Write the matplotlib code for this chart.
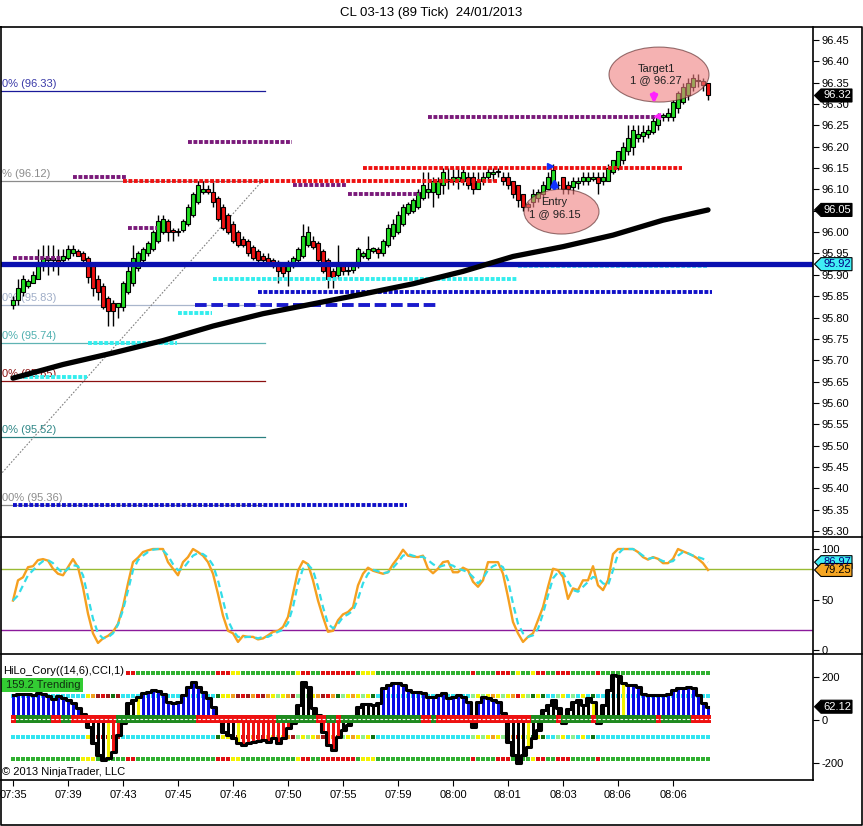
import matplotlib
matplotlib.use('Agg')
import matplotlib.pyplot as plt
from matplotlib.patches import Ellipse, Polygon, Rectangle
import numpy as np

plt.rcParams['font.family'] = ['Liberation Sans', 'DejaVu Sans']

# ---------------- DATA ----------------
TITLE = "CL 03-13 (89 Tick)  24/01/2013"
TIME_LABELS = ["07:35", "07:39", "07:43", "07:45", "07:46", "07:50", "07:55",
               "07:59", "08:00", "08:01", "08:03", "08:06", "08:06"]
TIME_BARS = [0, 11, 22, 33, 44, 55, 66, 77, 88, 99, 110, 121, 132]
PRICE_TICKS = [95.30, 95.35, 95.40, 95.45, 95.50, 95.55, 95.60, 95.65, 95.70, 95.75,
               95.80, 95.85, 95.90, 95.95, 96.00, 96.05, 96.10, 96.15, 96.20, 96.25,
               96.30, 96.35, 96.40, 96.45]

OPEN = [95.83, 95.84, 95.86, 95.875, 95.88, 95.89, 95.92, 95.935, 95.935, 95.935,
        95.935, 95.94, 95.95, 95.955, 95.95, 95.94, 95.92, 95.89, 95.875, 95.845,
        95.835, 95.825, 95.825, 95.86, 95.88, 95.915, 95.935, 95.95, 95.96, 95.98,
        96.00, 96.025, 96.005, 96.00, 96.005, 96.02, 96.04, 96.07, 96.095, 96.10,
        96.095, 96.08, 96.06, 96.04, 96.02, 96.00, 95.985, 95.98, 95.965, 95.955,
        95.945, 95.94, 95.935, 95.93, 95.925, 95.91, 95.92, 95.935, 95.945, 95.97,
        95.98, 95.975, 95.955, 95.935, 95.91, 95.90, 95.92, 95.91, 95.912, 95.92,
        95.945, 95.94, 95.955, 95.96, 95.95, 95.97, 95.99, 96.00, 96.02, 96.045,
        96.05, 96.06, 96.08, 96.095, 96.095, 96.09, 96.11, 96.125, 96.12, 96.12,
        96.12, 96.13, 96.13, 96.10, 96.12, 96.13, 96.135, 96.14, 96.13, 96.13,
        96.12, 96.11, 96.09, 96.065, 96.07, 96.08, 96.09, 96.10, 96.11, 96.11,
        96.13, 96.11, 96.105, 96.115, 96.12, 96.12, 96.125, 96.13, 96.12, 96.12,
        96.14, 96.15, 96.17, 96.19, 96.20, 96.22, 96.225, 96.23, 96.235, 96.25,
        96.27, 96.27, 96.27, 96.29, 96.305, 96.32, 96.34, 96.355, 96.355, 96.35]
HIGH = [95.85, 95.89, 95.90, 95.89, 95.91, 95.96, 95.97, 95.97, 95.97, 95.96,
        95.96, 95.97, 95.97, 95.96, 95.955, 95.945, 95.92, 95.90, 95.88, 95.85,
        95.84, 95.835, 95.885, 95.92, 95.97, 95.955, 95.965, 95.98, 96.005, 96.04,
        96.04, 96.03, 96.01, 96.01, 96.03, 96.065, 96.095, 96.12, 96.12, 96.11,
        96.12, 96.085, 96.065, 96.045, 96.025, 96.005, 95.99, 95.985, 95.97, 95.96,
        95.95, 95.95, 95.94, 95.935, 95.93, 95.935, 95.945, 95.965, 96.02, 96.015,
        95.99, 95.98, 95.96, 95.94, 95.915, 95.97, 95.925, 95.92, 95.93, 95.965,
        95.955, 95.99, 95.965, 95.965, 95.985, 96.02, 96.03, 96.05, 96.065, 96.07,
        96.08, 96.10, 96.14, 96.14, 96.13, 96.13, 96.15, 96.15, 96.15, 96.15,
        96.15, 96.14, 96.14, 96.14, 96.14, 96.15, 96.15, 96.15, 96.14, 96.14,
        96.12, 96.11, 96.09, 96.07, 96.10, 96.10, 96.12, 96.14, 96.16, 96.12,
        96.13, 96.12, 96.13, 96.13, 96.14, 96.14, 96.14, 96.14, 96.14, 96.16,
        96.17, 96.19, 96.21, 96.25, 96.25, 96.25, 96.25, 96.25, 96.27, 96.28,
        96.28, 96.29, 96.31, 96.33, 96.35, 96.36, 96.37, 96.37, 96.36, 96.35]
LOW = [95.82, 95.83, 95.85, 95.87, 95.88, 95.89, 95.91, 95.90, 95.91, 95.90,
       95.93, 95.935, 95.945, 95.945, 95.93, 95.88, 95.85, 95.84, 95.82, 95.78,
       95.78, 95.80, 95.815, 95.855, 95.875, 95.91, 95.93, 95.945, 95.955, 95.975,
       95.995, 95.98, 95.98, 95.99, 96.00, 96.015, 96.035, 96.065, 96.09, 96.09,
       96.06, 96.025, 96.005, 95.995, 95.975, 95.965, 95.965, 95.945, 95.935, 95.93,
       95.93, 95.925, 95.915, 95.88, 95.895, 95.875, 95.915, 95.93, 95.94, 95.965,
       95.96, 95.93, 95.905, 95.87, 95.87, 95.89, 95.90, 95.90, 95.905, 95.915,
       95.94, 95.935, 95.95, 95.94, 95.945, 95.965, 95.985, 95.995, 96.015, 96.04,
       96.045, 96.055, 96.075, 96.08, 96.06, 96.08, 96.09, 96.10, 96.11, 96.10,
       96.11, 96.10, 96.09, 96.10, 96.11, 96.12, 96.12, 96.13, 96.11, 96.10,
       96.08, 96.06, 96.05, 96.05, 96.06, 96.07, 96.08, 96.10, 96.10, 96.10,
       96.09, 96.09, 96.09, 96.10, 96.11, 96.11, 96.12, 96.09, 96.11, 96.12,
       96.135, 96.145, 96.16, 96.18, 96.18, 96.21, 96.21, 96.22, 96.23, 96.24,
       96.26, 96.26, 96.26, 96.28, 96.30, 96.31, 96.33, 96.34, 96.33, 96.31]
CLOSE = [95.84, 95.87, 95.89, 95.885, 95.90, 95.92, 95.94, 95.94, 95.94, 95.93,
         95.945, 95.96, 95.96, 95.945, 95.935, 95.895, 95.87, 95.86, 95.825, 95.815,
         95.815, 95.835, 95.88, 95.91, 95.94, 95.95, 95.96, 95.975, 96.00, 96.025,
         96.03, 96.00, 96.00, 96.00, 96.025, 96.06, 96.09, 96.11, 96.10, 96.095,
         96.07, 96.03, 96.01, 96.00, 95.98, 95.97, 95.97, 95.95, 95.94, 95.935,
         95.935, 95.93, 95.92, 95.91, 95.905, 95.925, 95.94, 95.96, 95.99, 96.00,
         95.965, 95.935, 95.91, 95.89, 95.895, 95.92, 95.91, 95.912, 95.92, 95.96,
         95.952, 95.96, 95.962, 95.95, 95.98, 96.01, 96.02, 96.04, 96.06, 96.065,
         96.075, 96.095, 96.11, 96.10, 96.12, 96.12, 96.14, 96.12, 96.13, 96.13,
         96.14, 96.11, 96.10, 96.12, 96.13, 96.14, 96.14, 96.142, 96.12, 96.11,
         96.09, 96.075, 96.06, 96.06, 96.09, 96.095, 96.11, 96.13, 96.145, 96.11,
         96.10, 96.10, 96.12, 96.12, 96.13, 96.13, 96.13, 96.115, 96.13, 96.15,
         96.17, 96.19, 96.20, 96.22, 96.24, 96.23, 96.235, 96.24, 96.26, 96.27,
         96.275, 96.28, 96.305, 96.325, 96.34, 96.35, 96.36, 96.357, 96.345, 96.32]

MA_BARS = [0, 10, 20, 30, 40, 50, 60, 70, 80, 90, 100, 110, 120, 130, 139]
MA_VALUES = [95.658, 95.690, 95.717, 95.746, 95.780, 95.809, 95.832, 95.855,
             95.879, 95.908, 95.943, 95.966, 95.993, 96.028, 96.052]
BLUE_LEVEL = 95.925

FIB_LEVELS = [96.33, 96.12, 95.83, 95.74, 95.652, 95.52, 95.36]
FIB_LABELS = ["0% (96.33)", "% (96.12)", "0% (95.83)", "0% (95.74)",
              "0% (95.65)", "0% (95.52)", "00% (95.36)"]
FIB_COLORS = ["#1a1a9a", "#8c8c8c", "#a9b6cc", "#5fb3b3", "#8b1010", "#2a8080", "#8c8c8c"]
FIB_TEXT_COLORS = ["#3a3aa8", "#8c8c8c", "#a0aec8", "#50b0b0", "#8b1010", "#308888", "#8c8c8c"]

DOT_LEVELS = [96.21, 96.13, 96.12, 96.15, 96.11, 96.09, 96.01, 95.94, 96.27,
              95.89, 95.92, 95.86, 95.81, 95.74, 95.66, 95.36]
DOT_START = [35, 12, 22, 70, 56, 67, 23, 0, 83, 40, 101, 49, 33, 15, 0, 0]
DOT_END = [55.8, 22.8, 96.8, 133.8, 66.8, 81.4, 28.8, 9.8, 128.8, 100.8, 138.8,
           139.8, 39.8, 32.8, 14.8, 78.8]
DOT_KIND = ["P", "P", "R", "R", "P", "P", "P", "P", "P", "C", "LC", "N", "C", "C", "C", "N"]
DASH_LEVEL, DASH_START, DASH_END = 95.83, 36.4, 85.4

STOCH_K = [49, 69, 72, 82, 83, 89, 90, 88.5, 80.5, 75.5, 74, 82, 90, 82, 62, 36, 16.5, 7, 11.5, 14,
           18, 26, 43, 66, 87, 91.4, 97, 98.7, 100, 100, 100, 87, 80.5, 74, 87, 92, 100, 97, 93.4, 87,
           75.5, 55.5, 34, 19, 16.5, 8, 14, 13, 13, 10.5, 11.5, 14.5, 18, 19, 22.8, 32.7, 55.5, 78.5, 88, 85,
           69, 49, 32.7, 18, 19, 29.4, 35.3, 37.6, 42.5, 64, 75.5, 81.5, 78.5, 77, 75.5, 77, 85, 91.4, 99.3, 93.4,
           92.4, 92, 93.4, 80.5, 76, 80.5, 87, 88, 77, 77, 81.5, 79, 67.6, 62.6, 69, 87, 87, 87, 75.5, 52.5,
           27.7, 16.5, 8, 13, 16.5, 29.4, 42.5, 62.5, 80.5, 79, 72.3, 50.6, 61, 59.3, 69, 69, 83, 64, 59.3, 69,
           95, 100, 100, 100, 100, 97, 92, 89.5, 92, 90.3, 86, 86, 90.3, 100, 97.7, 95.7, 93.4, 90.3, 86, 79.25]
STOCH_D = [49, 54, 64, 74, 79, 84, 88, 89, 86, 80.5, 76, 80.5, 84, 83, 74, 52.5, 31, 16.5, 11.5, 12.5,
           16.5, 25, 39.6, 59, 79, 89, 93.4, 97, 99.3, 100, 98.7, 93.4, 85, 79, 80.5, 87, 93.4, 96, 95, 91.4,
           84, 69, 49, 29.4, 19, 13, 12.5, 13, 13, 11.5, 13, 13, 15.5, 18, 20, 26.7, 42.5, 66, 80.5, 84.6,
           79, 62.5, 42.5, 26, 21.5, 25.7, 32.7, 35.3, 39, 50.6, 66, 75.5, 79.5, 78, 76, 77, 81.5, 87, 93.4, 95,
           93.4, 92, 92.4, 89, 85, 82, 83.5, 85, 83.5, 80.5, 79, 77, 72.3, 66, 71, 79, 83, 85, 82, 69,
           46, 26, 16.5, 13, 14.5, 21, 36, 54, 71, 77, 76, 67.6, 59.3, 57.7, 62.6, 67.6, 72.3, 71, 66, 64,
           79, 95, 100, 100, 100, 97, 93.4, 90.3, 91.4, 90.3, 88, 87, 88, 93.4, 97, 95.7, 93.4, 92, 90.3, 86.97]

CCI = [117, 120, 120, 120, 117, 128, 120, 110, 100, 110, 105, 95, 80, 55, 30, -31, -109, -164, -187, -179,
       -148, -70, -15, 78, 93, 109, 125, 132, 140, 136, 120, 86, 78, 86, 117, 156, 179, 156, 132, 101,
       62, 8, -54, -70, -86, -109, -117, -109, -104, -98, -94, -104, -86, -109, -86, -39, -15, 70, 179, 156,
       55, 24, -54, -117, -140, -78, -47, -23, 20, 62, 73, 73, 70, 78, 148, 164, 171, 171, 164, 140,
       132, 132, 125, 109, 109, 117, 125, 101, 109, 117, 109, 86, -31, 86, 109, 101, 95, 86, 32, -101,
       -164, -203, -164, -125, -86, -47, 47, 70, 93, 55, -15, 50, 86, 93, 70, 101, 86, -15, 70, 140,
       210, 207, 171, 164, 164, 156, 120, 117, 117, 117, 117, 120, 140, 148, 151, 156, 148, 117, 78, 62.12]
CCI_STATE = ("BBBBBBBBBBBBBB" "KKKKK" "Y" "RR" "KKK" "Y" "BBBBBBBBBBBBBBB" "KKKK" "Y"
             "RRRRRRRRRR" "KKKKKK" "RRRR" "KKKKKKKK" "BBBBBBBBBBBBBBBBBB" "K" "BBBBB"
             "KKKKK" "Y" "KKKKKK" "R" "KKKKK" "Y" "R" "KKKK" "Y" "BBBBBBBBBBBBBBBBB")
OUTER_STATE = ("GGGGGGGGGGGGGG" "YYY" "GGGGGG" "RR" "GGGGGGGGGGGGGGGG" "RRR" "YY" "GGGGGGGGGGG"
               "Y" "RR" "GG" "RRRRRRR" "G" "YYY" "GGGGGGGGGGGGGGGGGGG" "R" "GGGG" "RRR" "G" "Y"
               "GG" "Y" "RR" "GG" "RRR" "GGGGG" "R" "GGGGGGGGGGGGGGGGGGGGGG")
INNER_STATE = ("CCCCCCCCCCCCCCC" "YODRDKD" "CCCCCCCCCCCCCCCCCCC"
               "KYYODRDORDOYLYODLYLYODROKLYOYLYK" "CCCCCCCCCCCCCCCCCCC" "LYLYOYLYORYLKYK"
               "CC" "LYCLCYCK" "CCCCCCCCCCCCCCCCCCCCCCC")
ZERO_STATE = ("r" "ggggggg" "rr" "gg" "rrrrrrrrr" "gggggggggggggggg" "rrrrrrrrrrrrrrrr" "gggggggg"
              "rr" "gg" "r" "gggggggggggggggg" "rr" "g" "rrrrrrrrrrrrrrrrrrr" "ggggg" "r" "gggggg"
              "r" "gggggggggggg" "r" "gggggg" "rrrr")
CCI_ROWS_OUTER = [218, -184]
CCI_ROWS_INNER = [114, -78]
CCI_ZERO_ROW = 4.7

# ---------------- FIGURE ----------------
W, H = 863, 826
fig = plt.figure(figsize=(W / 100, H / 100), dpi=100)


def rect(x0, y0, x1, y1):
    return [x0 / W, 1 - y1 / H, (x1 - x0) / W, (y1 - y0) / H]


ax1 = fig.add_axes(rect(1, 27, 813, 537))
ax2 = fig.add_axes(rect(1, 537, 813, 654))
ax3 = fig.add_axes(rect(1, 654, 813, 780))
bg = fig.add_axes([0, 0, 1, 1])
bg.set_xlim(0, W)
bg.set_ylim(H, 0)
bg.axis('off')
bg.patch.set_visible(False)
bg.set_zorder(10)

n = len(CLOSE)
x = np.arange(n)
XL = (-2.4, 160.0)
for a in (ax1, ax2, ax3):
    a.set_xlim(*XL)
    for s in a.spines.values():
        s.set_visible(False)
    a.tick_params(axis='y', which='both', direction='out', length=4, width=0.8,
                  right=True, left=False, labelright=True, labelleft=False,
                  labelsize=8, pad=2)
    a.patch.set_facecolor('white')

ax1.set_ylim(95.286, 96.4804)
ax2.set_ylim(-3.96, 111.9)
ax3.set_ylim(-280.4, 308.4)

# ---------------- PRICE PANEL ----------------
O = np.array(OPEN); Hh = np.array(HIGH); Lw = np.array(LOW); C = np.array(CLOSE)
up = C >= O
body_bot = np.minimum(O, C)
body_h = np.maximum(np.abs(C - O), 0.0015)
ax1.vlines(x, Lw, Hh, color='black', lw=1.0, zorder=2)
ax1.bar(x, body_h, bottom=body_bot, width=0.8,
        color=np.where(up, '#22dd22', '#ee1111'), edgecolor='black', linewidth=0.8, zorder=3)

# fib lines
for lvl, lab, col, tcol in zip(FIB_LEVELS, FIB_LABELS, FIB_COLORS, FIB_TEXT_COLORS):
    ax1.plot([-2.6, 50.4], [lvl, lvl], color=col, lw=0.9, zorder=1)
    ax1.text(-2.3, lvl + 0.0165, lab, color=tcol, fontsize=8, ha='left', va='center', zorder=1)
ax1.plot([-2.6, 50.0], [95.431, 96.122], color='#808080', lw=0.8, ls=(0, (1.5, 1.5)), zorder=1)

kind_col = {"P": "#7a1a7a", "R": "#ee1111", "C": "#33eeee", "LC": "#55d5f5", "N": "#1010c8"}
for lvl, s0, s1, k in zip(DOT_LEVELS, DOT_START, DOT_END, DOT_KIND):
    ax1.plot([s0, s1], [lvl, lvl], color=kind_col[k], lw=2.8, ls=(0, (1, 0.4)),
             dash_capstyle='butt', zorder=4)
ax1.plot([DASH_START, DASH_END], [DASH_LEVEL, DASH_LEVEL], color='#1a1acc', lw=2.8,
         ls=(0, (3, 1.2)), dash_capstyle='butt', zorder=4)

ax1.plot(XL, [BLUE_LEVEL, BLUE_LEVEL], color='#0a10b0', lw=3.8, zorder=5)
ax1.plot(MA_BARS, MA_VALUES, color='black', lw=3.8, zorder=6, solid_capstyle='round')

# trade ellipses
ax1.add_patch(Ellipse((129.2, 96.369), 20, 0.1288, facecolor='#ef7f7f', alpha=0.6,
                      edgecolor='#502020', lw=0.8, zorder=7))
ax1.add_patch(Ellipse((109.7, 96.048), 15, 0.105, facecolor='#ef7f7f', alpha=0.6,
                      edgecolor='#502020', lw=0.8, zorder=7))
ax1.text(128.6, 96.383, "Target1", fontsize=8, ha='center', va='center', color='#202020', zorder=8)
ax1.text(128.6, 96.355, "1 @ 96.27", fontsize=8, ha='center', va='center', color='#202020', zorder=8)
ax1.text(108.3, 96.07, "Entry", fontsize=8, ha='center', va='center', color='#202020', zorder=8)
ax1.text(108.3, 96.042, "1 @ 96.15", fontsize=8, ha='center', va='center', color='#202020', zorder=8)
ax1.annotate('', xy=(128.2, 96.295), xytext=(128.2, 96.332),
             arrowprops=dict(arrowstyle='-|>', color='#ff22ff', lw=2.5, mutation_scale=9), zorder=9)
ax1.annotate('', xy=(108.3, 96.133), xytext=(108.3, 96.096),
             arrowprops=dict(arrowstyle='-|>', color='#1030ff', lw=2.5, mutation_scale=9), zorder=9)
ax1.plot([128.8], [96.272], marker='<', ms=5, color='#ff22ff', zorder=9)
ax1.plot([107.4], [96.155], marker='>', ms=5, color='#1030ff', zorder=9)

ax1.set_yticks(PRICE_TICKS)
ax1.set_yticklabels(["%.2f" % v for v in PRICE_TICKS])
ax1.set_xticks([])

# ---------------- STOCHASTIC PANEL ----------------
ax2.axhline(80, color='#99bb33', lw=1.0, zorder=1)
ax2.axhline(20, color='#8b1a9b', lw=1.0, zorder=1)
ax2.plot(x, STOCH_K, color='#f5a020', lw=1.7, zorder=3)
ax2.plot(x, STOCH_D, color='#33dde8', lw=1.6, ls=(0, (3, 2)), zorder=4)
ax2.set_yticks([0, 50, 100])
ax2.set_yticklabels(["0", "50", "100"])
ax2.set_xticks([])

# ---------------- CCI PANEL ----------------
outer_col = {"G": "#30b030", "R": "#e01010", "Y": "#f2f200", "L": "#90ee90"}
inner_col = {"C": "#33e5f0", "Y": "#f2f200", "O": "#f0a020", "D": "#a01818",
             "R": "#e01010", "K": "#107010", "L": "#90ee90"}
oc = [outer_col[s] for s in OUTER_STATE[:n]]
ic = [inner_col[s] for s in INNER_STATE[:n]]
for rv in CCI_ROWS_OUTER:
    ax3.scatter(x, np.full(n, rv), marker='s', s=8, c=oc, linewidths=0, zorder=1)
for rv in CCI_ROWS_INNER:
    ax3.scatter(x, np.full(n, rv), marker='s', s=8, c=ic, linewidths=0, zorder=1)

cci_col = {"B": "#0a0ae6", "K": "#000000", "Y": "#f2f200", "R": "#ee1111"}
ax3.bar(x, CCI, width=0.6, color=[cci_col[s] for s in CCI_STATE[:n]], zorder=3)
ax3.step(x, CCI, where='mid', color='black', lw=2.2, zorder=4)
zc = {"g": "#1f8a1f", "r": "#ee1111"}
ax3.bar(x, 37, bottom=CCI_ZERO_ROW - 18.5, width=1.0,
        color=[zc[s] for s in ZERO_STATE[:n]], zorder=5)
ax3.plot([-0.5, n - 0.5], [CCI_ZERO_ROW, CCI_ZERO_ROW], color='white', lw=0.8,
         ls=(0, (2.5, 1.5)), zorder=6)
ax3.set_yticks([-200, 0, 200])
ax3.set_yticklabels(["-200", "0", "200"])
ax3.set_xticks(TIME_BARS)
ax3.set_xticklabels(TIME_LABELS)
ax3.tick_params(axis='x', direction='out', length=4, width=0.8, labelsize=8, pad=3)

# ---------------- FRAME / TEXT ----------------
lk = dict(color='black', lw=1.2)
bg.plot([0.6, 861.5, 861.5, 0.6, 0.6], [27, 27, 825, 825, 27], **lk)
bg.plot([0.6, 861.5], [537, 537], **lk)
bg.plot([0.6, 861.5], [654, 654], **lk)
bg.plot([0.6, 813], [780, 780], **lk)
bg.plot([813, 813], [27, 780], **lk)

bg.text(431, 13, TITLE, ha='center', va='center', fontsize=9.5)
bg.text(3, 671, "HiLo_Cory((14,6),CCI,1)", ha='left', va='center', fontsize=8,
        bbox=dict(facecolor='white', edgecolor='none', pad=0.6))
bg.add_patch(Rectangle((0.6, 678), 82, 14, facecolor='#33cc33', edgecolor='none'))
bg.text(6, 685, "159.2 Trending", ha='left', va='center', fontsize=8, color='#103010')
bg.text(2, 772, "\u00a9 2013 NinjaTrader, LLC", ha='left', va='center', fontsize=8)


def tag(ax, v, text, fc, tc):
    disp = ax.transData.transform((0, v))
    y = bg.transData.inverted().transform(disp)[1]
    poly = Polygon([(814.5, y), (821, y - 6.5), (852, y - 6.5), (852, y + 6.5), (821, y + 6.5)],
                   closed=True, facecolor=fc, edgecolor='black', lw=0.8, zorder=20)
    bg.add_patch(poly)
    bg.text(837, y, text, ha='center', va='center', fontsize=8, color=tc, zorder=21)


tag(ax1, CLOSE[-1], "%.2f" % CLOSE[-1], 'black', 'white')
tag(ax1, MA_VALUES[-1], "%.2f" % MA_VALUES[-1], 'black', 'white')
tag(ax1, BLUE_LEVEL, "95.92", '#40eef5', '#000080')
tag(ax2, STOCH_D[-1], "%.2f" % STOCH_D[-1], '#40eef5', '#000080')
tag(ax2, STOCH_K[-1], "%.2f" % STOCH_K[-1], '#f5a623', 'black')
tag(ax3, CCI[-1], "%.2f" % CCI[-1], 'black', 'white')

fig.savefig('out.png', dpi=100)
